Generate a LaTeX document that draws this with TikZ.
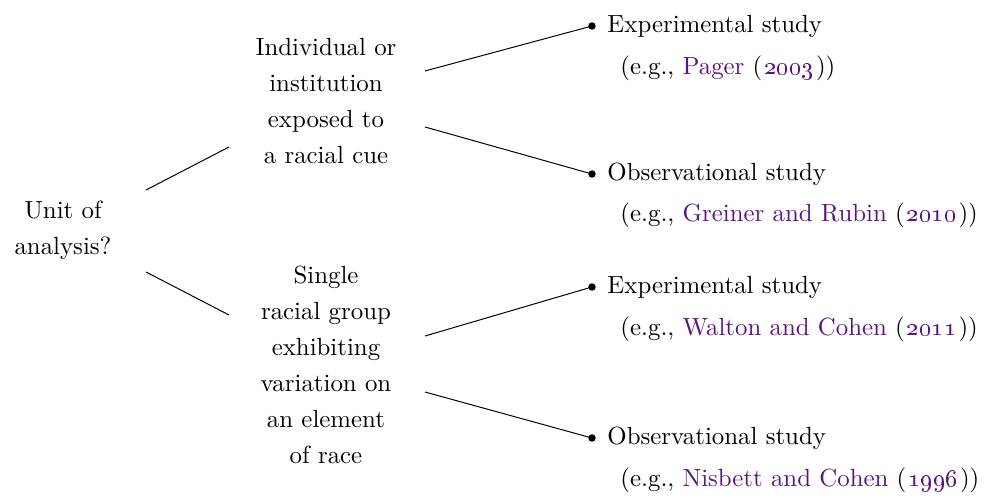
\documentclass[tikz,border=0pt]{standalone}
\usetikzlibrary{positioning,calc}
\definecolor{citecolor}{RGB}{90,20,125}
\newcommand{\citeref}[2]{{\color{citecolor}#1} (\kern0.8pt{\color{citecolor}\oldstylenums{#2}}\kern0.8pt)}
\begin{document}
\begin{tikzpicture}[x=0.01414cm,y=-0.01414cm,
    question/.style={align=center,font=\linespread{1.21}\selectfont},
    study/.style={anchor=west,inner sep=0pt},
    bullet/.style={circle,fill,inner sep=0pt,minimum size=3pt}]
    \useasboundingbox (0,0) rectangle (988,499);
    % Nodos de decision
    \node[question] (unit) at (63,230) {Unit of\\analysis?};
    \node[question] (cue) at (326,101) {Individual or\\institution\\exposed to\\a racial cue};
    \node[question] (group) at (326,365) {Single\\racial group\\exhibiting\\variation on\\an element\\of race};
    % Hojas
    \node[bullet] (b1) at (592,26) {};
    \node[bullet] (b2) at (592,174) {};
    \node[bullet] (b3) at (592,287) {};
    \node[bullet] (b4) at (592,438) {};
    \node[study] (s1) at (607,26) {Experimental study};
    \node[study] (s2) at (607,174) {Observational study};
    \node[study] (s3) at (607,287) {Experimental study};
    \node[study] (s4) at (607,438) {Observational study};
    \node[study] (r1) at (620,68) {(e.g., \citeref{Pager}{2003})};
    \node[study] (r2) at (620,215) {(e.g., \citeref{Greiner and Rubin}{2010})};
    \node[study] (r3) at (620,329) {(e.g., \citeref{Walton and Cohen}{2011})};
    \node[study] (r4) at (620,480) {(e.g., \citeref{Nisbett and Cohen}{1996})};
    % Ramas
    \draw ($(unit)+(83,-40)$) -- ($(cue)+(-97,46)$);
    \draw ($(unit)+(83,42)$) -- ($(group)+(-97,-50)$);
    \draw ($(cue)+(99,-30)$) -- (b1.center);
    \draw ($(cue)+(99,26)$) -- (b2.center);
    \draw ($(group)+(99,-29)$) -- (b3.center);
    \draw ($(group)+(99,27)$) -- (b4.center);
\end{tikzpicture}
\end{document}
